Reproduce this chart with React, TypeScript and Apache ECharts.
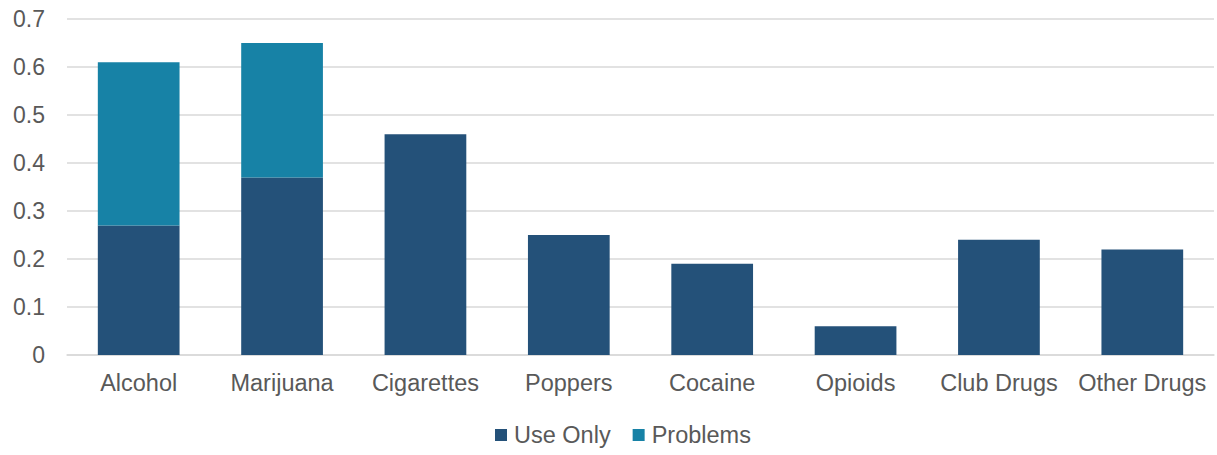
import React, { useEffect, useRef } from "react";
import * as echarts from "echarts";

const categories = ["Alcohol", "Marijuana", "Cigarettes", "Poppers", "Cocaine", "Opioids", "Club Drugs", "Other Drugs"];
const useOnly = [0.27, 0.37, 0.46, 0.25, 0.19, 0.06, 0.24, 0.22];
const problems = [0.34, 0.28, null, null, null, null, null, null];
const yTicks = [0, 0.1, 0.2, 0.3, 0.4, 0.5, 0.6, 0.7];

export default function App() {
  const ref = useRef<HTMLDivElement>(null);
  useEffect(() => {
    const chart = echarts.init(ref.current!, null, { renderer: "svg" });
    const font = "'Liberation Sans', Arial, sans-serif";
    chart.setOption({
      animation: false,
      textStyle: { fontFamily: font },
      grid: { left: 67, right: 3, top: 19, bottom: 100, containLabel: false },
      legend: {
        top: 418,
        left: 490,
        itemWidth: 12,
        itemHeight: 12,
        itemGap: 22,
        itemStyle: { borderWidth: 0 },
        icon: "rect",
        textStyle: { fontSize: 23.5, color: "#595959", fontFamily: font, padding: [0, 0, 0, 2] },
        data: ["Use Only", "Problems"],
      },
      xAxis: {
        type: "category",
        data: categories,
        axisTick: { show: false },
        axisLine: { lineStyle: { color: "#D9D9D9", width: 1.5 } },
        axisLabel: { fontSize: 23.5, color: "#595959", margin: 16, interval: 0, fontFamily: font },
      },
      yAxis: {
        type: "value",
        min: 0,
        max: 0.7,
        interval: 0.1,
        axisLabel: {
          fontSize: 23,
          color: "#595959",
          margin: 22,
          fontFamily: font,
          formatter: (v: number) => {
            const t = yTicks.find((x) => Math.abs(x - v) < 1e-6);
            return t === 0 ? "0" : (t ?? v).toFixed(1);
          },
        },
        splitLine: { lineStyle: { color: "#D9D9D9", width: 1.5 } },
        axisLine: { show: false },
        axisTick: { show: false },
      },
      series: [
        {
          name: "Use Only",
          type: "bar",
          stack: "total",
          data: useOnly,
          barWidth: "57%",
          itemStyle: { color: "#245179" },
        },
        {
          name: "Problems",
          type: "bar",
          stack: "total",
          data: problems,
          barWidth: "57%",
          itemStyle: { color: "#1782A6" },
        },
      ],
    });
    return () => chart.dispose();
  }, []);
  return <div ref={ref} style={{ position: "absolute", left: 0, top: 0, width: 1217, height: 455 }} />;
}
